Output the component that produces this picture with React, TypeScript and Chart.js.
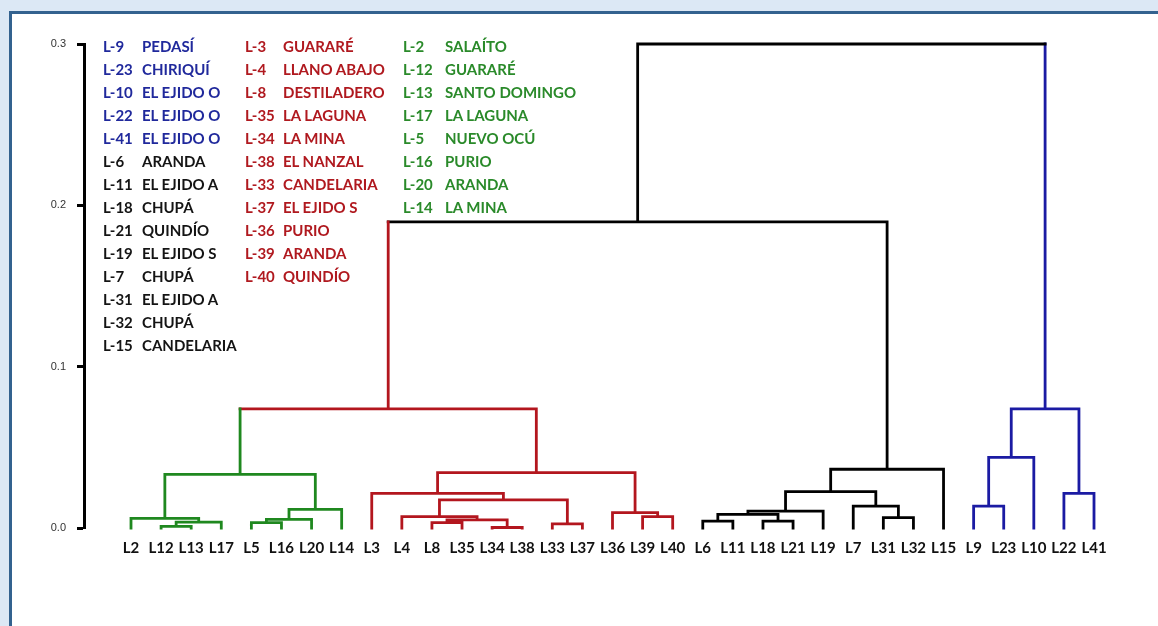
import React, { useEffect, useRef } from 'react';
import { Chart, registerables } from 'chart.js';

Chart.register(...registerables);

// Leaves of the dendrogram, left to right
const leafLabels = [
  'L2', 'L12', 'L13', 'L17', 'L5', 'L16', 'L20', 'L14',
  'L3', 'L4', 'L8', 'L35', 'L34', 'L38', 'L33', 'L37', 'L36', 'L39', 'L40',
  'L6', 'L11', 'L18', 'L21', 'L19', 'L7', 'L31', 'L32', 'L15',
  'L9', 'L23', 'L10', 'L22', 'L41',
];
const leafGroups = [
  'G', 'G', 'G', 'G', 'G', 'G', 'G', 'G',
  'R', 'R', 'R', 'R', 'R', 'R', 'R', 'R', 'R', 'R', 'R',
  'K', 'K', 'K', 'K', 'K', 'K', 'K', 'K', 'K',
  'B', 'B', 'B', 'B', 'B',
];

// Agglomeration steps: ids 0..32 are leaves, step k creates node 33 + k
const mergeLeft = [1, 33, 0, 4, 36, 37, 35, 10, 12, 40, 9, 14, 43, 8, 17, 16, 46, 39, 19, 21, 51, 53, 25, 24, 54, 57, 50, 28, 60, 31, 61, 59];
const mergeRight = [2, 3, 34, 5, 6, 7, 38, 11, 13, 41, 42, 15, 44, 45, 18, 47, 48, 49, 20, 22, 52, 23, 26, 55, 56, 27, 58, 29, 30, 32, 62, 63];
const mergeHeight = [
  0.001, 0.0037, 0.006, 0.0033, 0.0054, 0.0116, 0.0333,
  0.0033, 0.0003, 0.005, 0.007, 0.0025, 0.0174, 0.0215, 0.007, 0.0095, 0.0343, 0.0738,
  0.0043, 0.0043, 0.0085, 0.0105, 0.0064, 0.0136, 0.0225, 0.0364, 0.1897,
  0.0136, 0.0438, 0.0215, 0.0738,
  0.3,
];
const mergeGroup = [
  'G', 'G', 'G', 'G', 'G', 'G', 'G',
  'R', 'R', 'R', 'R', 'R', 'R', 'R', 'R', 'R', 'R', 'R',
  'K', 'K', 'K', 'K', 'K', 'K', 'K', 'K', 'K',
  'B', 'B', 'B', 'B',
  'K',
];

const yTicks = [0, 0.1, 0.2, 0.3];

// Accession key, three columns
const col1Codes = ['L-9', 'L-23', 'L-10', 'L-22', 'L-41', 'L-6', 'L-11', 'L-18', 'L-21', 'L-19', 'L-7', 'L-31', 'L-32', 'L-15'];
const col1Names = ['PEDASÍ', 'CHIRIQUÍ', 'EL EJIDO O', 'EL EJIDO O', 'EL EJIDO O', 'ARANDA', 'EL EJIDO A', 'CHUPÁ', 'QUINDÍO', 'EL EJIDO S', 'CHUPÁ', 'EL EJIDO A', 'CHUPÁ', 'CANDELARIA'];
const col1Groups = ['B', 'B', 'B', 'B', 'B', 'K', 'K', 'K', 'K', 'K', 'K', 'K', 'K', 'K'];
const col2Codes = ['L-3', 'L-4', 'L-8', 'L-35', 'L-34', 'L-38', 'L-33', 'L-37', 'L-36', 'L-39', 'L-40'];
const col2Names = ['GUARARÉ', 'LLANO ABAJO', 'DESTILADERO', 'LA LAGUNA', 'LA MINA', 'EL NANZAL', 'CANDELARIA', 'EL EJIDO S', 'PURIO', 'ARANDA', 'QUINDÍO'];
const col3Codes = ['L-2', 'L-12', 'L-13', 'L-17', 'L-5', 'L-16', 'L-20', 'L-14'];
const col3Names = ['SALAÍTO', 'GUARARÉ', 'SANTO DOMINGO', 'LA LAGUNA', 'NUEVO OCÚ', 'PURIO', 'ARANDA', 'LA MINA'];

const lineColors: Record<string, string> = { G: '#1f881f', R: '#b3161e', K: '#000000', B: '#1b1ba3' };
const textColors: Record<string, string> = { G: '#2a8a2a', R: '#b0191f', K: '#141414', B: '#20299c' };

const FONT = 'Lato, "Open Sans", sans-serif';

type Pt = { x: number; y: number | null };

function buildSegments(): Record<string, Pt[]> {
  const n = leafLabels.length;
  const nodeX: number[] = leafLabels.map((_, i) => i);
  const nodeH: number[] = leafLabels.map(() => 0);
  const nodeGroup: string[] = [...leafGroups];
  const parentH: number[] = [];
  mergeLeft.forEach((l, k) => {
    const r = mergeRight[k];
    const id = n + k;
    nodeX[id] = (nodeX[l] + nodeX[r]) / 2;
    nodeH[id] = mergeHeight[k];
    nodeGroup[id] = mergeGroup[k];
    parentH[l] = mergeHeight[k];
    parentH[r] = mergeHeight[k];
  });
  const segs: Record<string, Pt[]> = { G: [], R: [], K: [], B: [] };
  const push = (g: string, a: Pt, b: Pt) => {
    segs[g].push(a, b, { x: b.x, y: null });
  };
  // horizontal bar of every merge
  mergeLeft.forEach((l, k) => {
    const r = mergeRight[k];
    push(mergeGroup[k], { x: nodeX[l], y: mergeHeight[k] }, { x: nodeX[r], y: mergeHeight[k] });
  });
  // vertical stem of every node up to its parent
  nodeX.forEach((x, id) => {
    if (parentH[id] === undefined) return;
    push(nodeGroup[id], { x, y: nodeH[id] }, { x, y: parentH[id] });
  });
  return segs;
}

function KeyColumn(props: { left: number; nameOffset: number; codes: string[]; names: string[]; groups: string[] }) {
  const { left, nameOffset, codes, names, groups } = props;
  return (
    <div style={{ position: 'absolute', left, top: 35, font: `bold 15px ${FONT}`, lineHeight: '23px', whiteSpace: 'nowrap' }}>
      {codes.map((c, i) => (
        <div key={i} style={{ color: textColors[groups[i]], position: 'relative', height: 23 }}>
          <span style={{ position: 'absolute', left: 0 }}>{c}</span>
          <span style={{ position: 'absolute', left: nameOffset }}>{names[i]}</span>
        </div>
      ))}
    </div>
  );
}

export default function App() {
  const canvasRef = useRef<HTMLCanvasElement | null>(null);

  useEffect(() => {
    const canvas = canvasRef.current;
    if (!canvas) return;
    const segs = buildSegments();
    const datasets = ['G', 'R', 'K', 'B'].map((g) => ({
      label: g,
      data: segs[g],
      borderColor: lineColors[g],
      borderWidth: 2.8,
      borderCapStyle: 'square' as const,
      borderJoinStyle: 'miter' as const,
      pointRadius: 0,
      pointHoverRadius: 0,
      spanGaps: false,
      tension: 0,
      fill: false,
      clip: false as const,
    }));

    const chart = new Chart(canvas, {
      type: 'line',
      data: { datasets },
      options: {
        animation: false,
        responsive: false,
        events: [],
        layout: { padding: { top: 44, right: 20, bottom: 58, left: 0 } },
        plugins: { legend: { display: false }, tooltip: { enabled: false } },
        scales: {
          x: {
            type: 'linear',
            min: -1.5618,
            max: 33.462,
            afterBuildTicks: (scale: any) => {
              scale.ticks = leafLabels.map((_, i) => ({ value: i }));
            },
            afterFit: (scale: any) => {
              scale.height = 40;
            },
            ticks: {
              autoSkip: false,
              maxRotation: 0,
              minRotation: 0,
              padding: 11,
              color: '#111111',
              font: { family: FONT, size: 15, weight: 'bold' },
              callback: (_v: any, i: number) => leafLabels[i],
            },
            grid: { display: false, drawTicks: false },
            border: { display: false },
          },
          y: {
            type: 'linear',
            min: 0,
            max: 0.3,
            afterBuildTicks: (scale: any) => {
              scale.ticks = yTicks.map((v) => ({ value: v }));
            },
            afterFit: (scale: any) => {
              scale.width = 84;
            },
            ticks: {
              padding: 11,
              color: '#333333',
              font: { family: '"Liberation Sans", Arial, sans-serif', size: 11 },
              callback: (v: any) => Number(v).toFixed(1),
            },
            grid: { drawOnChartArea: false, drawTicks: true, tickLength: 7, tickWidth: 3, tickColor: '#000000' },
            border: { display: true, color: '#000000', width: 3 },
          },
        },
      },
    });
    return () => chart.destroy();
  }, []);

  return (
    <div style={{ position: 'fixed', left: 0, top: 0, width: 1158, height: 626, background: '#dce8f5', overflow: 'hidden' }}>
      <div
        style={{
          position: 'absolute', left: 9, top: 11, width: 1158, height: 626,
          background: '#ffffff', borderTop: '3px solid #33628f', borderLeft: '3px solid #33628f',
        }}
      />
      <canvas ref={canvasRef} width={1158} height={626} style={{ position: 'absolute', left: 0, top: 0, width: 1158, height: 626 }} />
      <KeyColumn left={103} nameOffset={39} codes={col1Codes} names={col1Names} groups={col1Groups} />
      <KeyColumn left={245} nameOffset={38} codes={col2Codes} names={col2Names} groups={col2Codes.map(() => 'R')} />
      <KeyColumn left={403} nameOffset={42} codes={col3Codes} names={col3Names} groups={col3Codes.map(() => 'G')} />
    </div>
  );
}
